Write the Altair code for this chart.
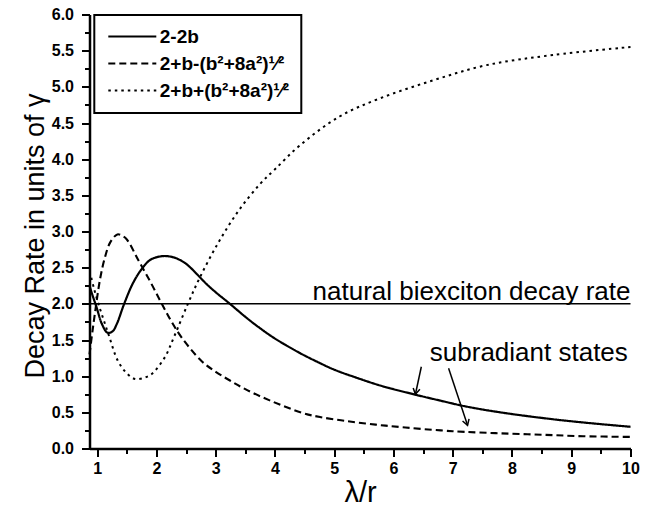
import altair as alt
import pandas as pd

# ---- data ----
series_names = ["2-2b", "2+b-(b²+8a²)¹⁄²", "2+b+(b²+8a²)¹⁄²"]

x_solid = [0.87, 0.92, 0.99, 1.08, 1.175, 1.26, 1.33, 1.455, 1.6, 1.75, 1.9, 2.11, 2.3, 2.48,
           2.6, 2.73, 2.85, 3.0, 3.24, 3.5, 3.72, 4.0, 4.42, 4.76, 5.0, 5.37, 5.8, 6.39, 6.8,
           7.23, 7.8, 8.58, 9.2, 10.0]
y_solid = [2.25, 2.12, 1.95, 1.72, 1.60, 1.62, 1.72, 2.0, 2.28, 2.48, 2.61, 2.66, 2.64, 2.565,
           2.48, 2.37, 2.27, 2.16, 2.0, 1.82, 1.68, 1.52, 1.32, 1.18, 1.09, 0.98, 0.865, 0.74,
           0.66, 0.58, 0.50, 0.415, 0.36, 0.30]

x_dash = [0.87, 0.92, 0.96, 1.05, 1.13, 1.22, 1.34, 1.42, 1.50, 1.69, 1.9, 2.09, 2.25, 2.42,
          2.76, 3.0, 3.24, 3.5, 3.91, 4.47, 4.76, 5.2, 5.7, 6.2, 6.8, 7.2, 7.8, 8.5, 9.2, 10.0]
y_dash = [1.30, 1.62, 1.86, 2.35, 2.64, 2.85, 2.96, 2.94, 2.89, 2.61, 2.30, 2.0, 1.76, 1.54,
          1.21, 1.06, 0.94, 0.82, 0.665, 0.49, 0.435, 0.38, 0.33, 0.29, 0.25, 0.23, 0.21, 0.19,
          0.17, 0.16]

x_dot = [0.90, 0.95, 1.02, 1.1, 1.19, 1.35, 1.5, 1.64, 1.8, 1.92, 2.14, 2.3, 2.53, 2.73, 3.04,
         3.38, 3.74, 4.0, 4.42, 5.09, 5.77, 6.67, 7.57, 8.69, 10.0]
y_dot = [2.36, 2.2, 2.0, 1.80, 1.58, 1.21, 1.04, 0.96, 0.98, 1.03, 1.26, 1.55, 2.0, 2.36, 2.84,
         3.28, 3.65, 3.86, 4.19, 4.59, 4.84, 5.09, 5.30, 5.44, 5.55]

natural_rate = [2.0]

note_text = ["natural biexciton decay rate", "subradiant states"]
note_x = [10.0, 9.955]
note_y = [2.05, 1.205]

arrow_x = [6.47, 6.93]
arrow_y = [1.13, 1.11]
arrow_x2 = [6.37, 7.25]
arrow_y2 = [0.75, 0.32]
arrow_angle = [11.5, 342.0]

x_ticks = [1 + 0.5 * i for i in range(19)]
y_ticks = [0.25 * i for i in range(25)]

# ---- tables ----
frames = []
for name, xs, ys in zip(series_names, [x_solid, x_dash, x_dot], [y_solid, y_dash, y_dot]):
    frames.append(pd.DataFrame({"x": xs, "y": ys, "series": name}))
curves = pd.concat(frames, ignore_index=True)
notes = pd.DataFrame({"text": note_text, "x": note_x, "y": note_y})
arrows = pd.DataFrame({"x": arrow_x, "y": arrow_y, "x2": arrow_x2, "y2": arrow_y2,
                       "angle": arrow_angle})
level = pd.DataFrame({"y": natural_rate})

FONT = "Liberation Sans"


def x_enc(field="x:Q"):
    return alt.X(
        field,
        scale=alt.Scale(domain=[0.87, 10], nice=False, zero=False),
        axis=alt.Axis(
            values=x_ticks, grid=False,
            labelExpr="datum.value % 1 ? '' : format(datum.value, 'd')",
            tickSize={"condition": {"test": "datum.value % 1", "value": 5}, "value": 8},
            tickColor="black", tickWidth=2, domainColor="black", domainWidth=2.5,
            labelFont=FONT, labelFontSize=16, labelFontWeight="bold", labelColor="black",
            labelPadding=4, labelFlush=False, labelOverlap=False,
            titleFont=FONT, titleFontSize=29, titleFontWeight="normal", titleColor="black",
            titleX=270.6, titleY=52.5, titleBaseline="alphabetic", titleAlign="center",
        ),
        title="λ/r",
    )


def y_enc(field="y:Q"):
    return alt.Y(
        field,
        scale=alt.Scale(domain=[0, 6], nice=False, zero=False),
        axis=alt.Axis(
            values=y_ticks, grid=False,
            labelExpr="(datum.value * 4) % 2 ? '' : format(datum.value, '.1f')",
            tickSize={"condition": {"test": "(datum.value * 4) % 2", "value": 5}, "value": 8},
            tickColor="black", tickWidth=2, domainColor="black", domainWidth=2.5,
            labelFont=FONT, labelFontSize=16, labelFontWeight="bold", labelColor="black",
            labelPadding=8, labelFlush=False, labelOverlap=False,
            titleFont=FONT, titleFontSize=27, titleFontWeight="normal", titleColor="black",
            titleAngle=270, titleX=-46, titleY=221, titleBaseline="alphabetic",
            titleAlign="center",
        ),
        title="Decay Rate in units of γ",
    )


legend = alt.Legend(
    title=None, orient="none", legendX=4.8, legendY=0.5, padding=12,
    strokeColor="black", fillColor="white",
    symbolType="M-4.8,0H4.8", symbolSize=100, symbolStrokeWidth=2, symbolStrokeColor="black",
    symbolOffset=16.5, labelOffset=18, rowPadding=7,
    labelFont=FONT, labelFontSize=19, labelFontWeight="bold", labelColor="black", labelLimit=400,
)

lines = alt.Chart(curves).mark_line(interpolate="catmull-rom", color="black").encode(
    x=x_enc(), y=y_enc(),
    strokeDash=alt.StrokeDash("series:N",
                              scale=alt.Scale(domain=series_names,
                                              range=[[1, 0], [7, 4], [2.5, 4]]),
                              legend=legend),
    strokeWidth=alt.StrokeWidth("series:N",
                                scale=alt.Scale(domain=series_names, range=[2.2, 2.0, 2.5]),
                                legend=None),
    detail="series:N",
)

rule = alt.Chart(level).mark_rule(color="black", strokeWidth=1.5).encode(y=y_enc())

texts = alt.Chart(notes).mark_text(align="right", baseline="alphabetic", font=FONT,
                                   fontSize=26, color="black").encode(
    x=x_enc(), y=y_enc(), text="text:N")

shafts = alt.Chart(arrows).mark_rule(color="black", strokeWidth=1.5).encode(
    x=x_enc(), y=y_enc(), x2="x2:Q", y2="y2:Q")

heads = alt.Chart(arrows).mark_point(shape="M-0.6,-1L0,0L0.6,-1", filled=False, color="black",
                                     strokeWidth=1.5, size=130, opacity=1).encode(
    x=x_enc("x2:Q"), y=y_enc("y2:Q"),
    angle=alt.Angle("angle:Q", scale=None),
)

chart = alt.layer(rule, lines, texts, shafts, heads).properties(
    width=541, height=434,
    autosize=alt.AutoSizeParams(type="none"),
    padding={"left": 81.5, "top": 6.5, "right": 20, "bottom": 59},
).configure_view(strokeWidth=0).configure_legend(strokeWidth=2)

chart.save("out.html", embed_options={"renderer": "svg", "actions": False})
